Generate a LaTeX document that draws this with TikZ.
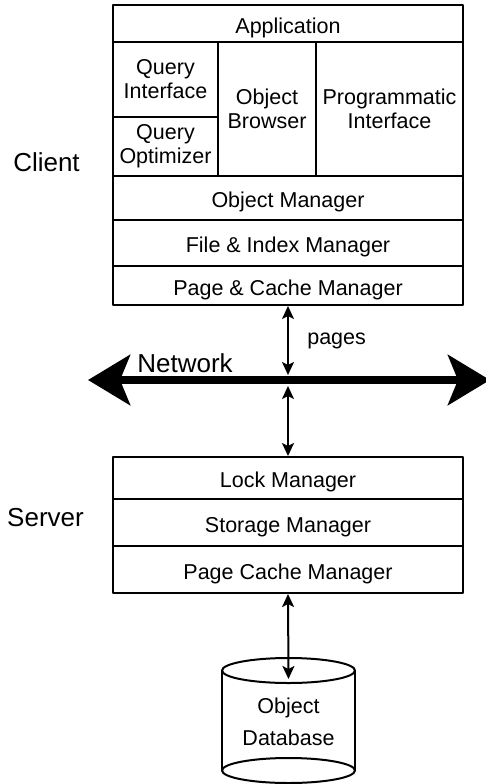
\documentclass[tikz,border=0pt]{standalone}
\usepackage{fontspec}
\setmainfont{Liberation Sans}
\usetikzlibrary{arrows.meta,positioning}

\begin{document}
\begin{tikzpicture}
    [>={Stealth[length=13pt,width=12pt,inset=3pt]},
    x=1pt, y=-1pt,
    line cap=round,
    line join=round,
    cell/.style={draw, line width=2pt, inner sep=0pt, align=center,
        font=\fontsize{21.5}{24}\selectfont,
        execute at begin node={\rule{0pt}{24pt}}},
    big/.style={font=\fontsize{26}{30}\selectfont}]

    \useasboundingbox (0,0) rectangle (485,784);

    % Client
    \node[cell, minimum width=350pt, minimum height=37pt]  (app)     at (288,23.5)  {Application};
    \node[cell, minimum width=105pt, minimum height=75pt]  (qint)    at (165.5,79.5) {Query\\Interface};
    \node[cell, minimum width=105pt, minimum height=59pt]  (qopt)    at (165.5,146.5) {Query\\Optimizer};
    \node[cell, minimum width=98pt,  minimum height=134pt] (browser) at (267,109)   {Object\\Browser};
    \node[cell, minimum width=147pt, minimum height=134pt] (prog)    at (389.5,109) {Programmatic\\Interface};
    \node[cell, minimum width=350pt, minimum height=44pt]  (objman)  at (288,198)   {Object Manager};
    \node[cell, minimum width=350pt, minimum height=46pt]  (fileman) at (288,243)   {File \& Index Manager};
    \node[cell, minimum width=350pt, minimum height=39pt]  (pageman) at (288,285.5) {Page \& Cache Manager};
    \node[big] (client) at (46.5,162) {Client};

    % Server
    \node[cell, minimum width=350pt, minimum height=42pt] (lock)    at (288,478)   {Lock Manager};
    \node[cell, minimum width=350pt, minimum height=47pt] (storage) at (288,522.5) {Storage Manager};
    \node[cell, minimum width=350pt, minimum height=47pt] (pcache)  at (288,569.5) {Page Cache Manager};
    \node[big] (server) at (45.5,518) {Server};

    % Netzwerk
    \coordinate (netL) at (88,380);
    \coordinate (netR) at (490,380);
    \coordinate (netTop) at (288,375);
    \coordinate (netBot) at (288,386);
    \draw[{Stealth[length=42pt,width=50pt,inset=10pt]}-{Stealth[length=42pt,width=50pt,inset=10pt]},
        line width=8pt, line cap=butt] (netL) -- (netR);
    \node[big] (network) at (185,363) {Network};

    \draw[<->, line width=2pt] (pageman.south) -- (netTop)
        node[midway, right=15pt, font=\fontsize{21.5}{24}\selectfont] (pages) {pages};
    \draw[<->, line width=2pt] (netBot) -- (lock.north);

    % Datenbank
    \draw[line width=2pt] (222,670.5) -- (222,770.5);
    \draw[line width=2pt] (355,670.5) -- (355,770.5);
    \draw[line width=2pt, fill=white] (288.5,670.5) ellipse[x radius=66.5, y radius=12.5];
    \draw[line width=2pt] (288.5,770.5) ellipse[x radius=66.5, y radius=12.5];
    \node[align=center, font=\fontsize{21.5}{32}\selectfont] (db) at (288.5,722) {Object\\Database};
    \coordinate (dbtop) at (288.5,679);

    \draw[<->, line width=2pt] (pcache.south) -- (dbtop);
\end{tikzpicture}
\end{document}
